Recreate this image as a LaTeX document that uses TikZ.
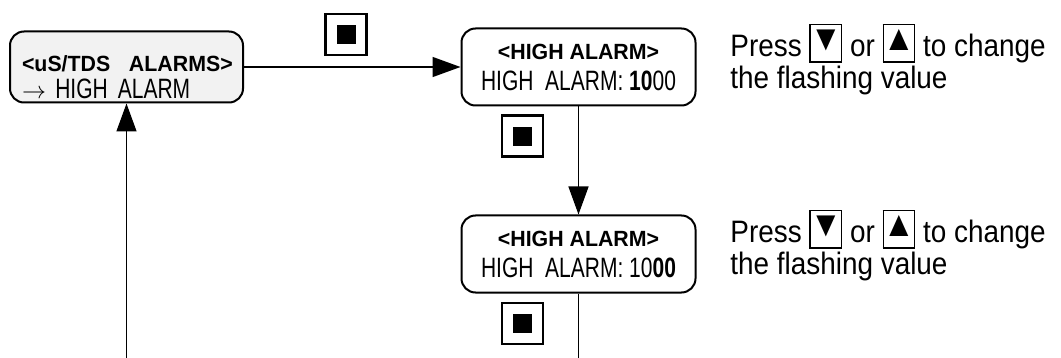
\documentclass[tikz,border=0pt]{standalone}
\usepackage{fontspec}
\setmainfont{Liberation Sans}[FakeStretch=0.9]
\newfontfamily\lcdfont{Liberation Sans}[FakeStretch=0.75]
\newfontfamily\headfont{Liberation Sans}[FakeStretch=0.97]
\usetikzlibrary{
  arrows.meta,
  positioning
}
\definecolor{PanelGray}{RGB}{242,242,242}
\definecolor{InkBlack}{RGB}{0,0,0}
\newcommand{\keycap}[1]{\raisebox{-2.5pt}{\setlength{\fboxsep}{0pt}\setlength{\fboxrule}{0.7pt}\fbox{\makebox[15pt]{\rule{0pt}{18pt}\raisebox{5.5pt}{\fontsize{18}{18}\selectfont#1}}}}}
\tikzset{
  menubox/.style={draw=InkBlack,fill=PanelGray,line width=1pt,rounded corners=7pt,minimum height=35.5pt,text width=104.5pt,inner xsep=6pt,inner ysep=0pt,align=left,font=\fontsize{14}{13.5}\selectfont},
  lcdbox/.style={draw=InkBlack,fill=white,line width=1pt,rounded corners=7pt,minimum width=117pt,minimum height=38.5pt,inner sep=0pt,align=center,font=\fontsize{14}{15.5}\selectfont},
  keybtn/.style={draw=InkBlack,fill=white,line width=1.2pt,minimum size=20.5pt,inner sep=0pt},
  notetext/.style={align=left,inner sep=0pt,font=\fontsize{15.5}{16}\selectfont},
  flowarrow/.style={-{Triangle[length=14pt,width=10pt]},line width=0.7pt,draw=InkBlack},
  flowline/.style={line width=0.7pt,draw=InkBlack}
}

\begin{document}
\begin{tikzpicture}[x=0.5pt,y=-0.5pt]
\useasboundingbox (0,0) rectangle (1061,358);

\node[menubox] (alarms) at (126.5,67) {\rule{0pt}{18pt}\mbox{\headfont\bfseries\fontsize{11}{11}\selectfont <uS/TDS\ \ ALARMS>}\\\mbox{\lcdfont{\fontsize{12}{12}\selectfont$\rightarrow$}\ HIGH\hspace{5pt}ALARM}};
\node[lcdbox] (highset) at (578.5,67) {{\headfont\bfseries\fontsize{11}{11}\selectfont <HIGH ALARM>}\\{\lcdfont HIGH\ \ ALARM: \textbf{10}00}};
\node[lcdbox] (highlow) at (578.5,254) {{\headfont\bfseries\fontsize{11}{11}\selectfont <HIGH ALARM>}\\{\lcdfont HIGH\ \ ALARM: 10\textbf{00}}};

\node[keybtn] (keyA) at (346,34.5) {\rule{9.5pt}{9.5pt}};
\node[keybtn, below=4pt of highset, xshift=-28pt] (keyB) {\rule{9.5pt}{9.5pt}};
\node[keybtn, below=4pt of highlow, xshift=-28pt] (keyC) {\rule{9.5pt}{9.5pt}};

\node[notetext, anchor=north west] (notehigh) at (730,23.5) {Press \keycap{▼} or \keycap{▲} to change\\the flashing value};
\node[notetext, anchor=north west] (notelow) at (730,209.5) {Press \keycap{▼} or \keycap{▲} to change\\the flashing value};

\coordinate (retL) at (126.5,358);
\coordinate (outL) at (578.5,358);

\draw[flowarrow] (alarms) -- (highset);
\draw[flowarrow] (highset) -- (highlow);
\draw[flowline] (highlow) -- (outL);
\draw[flowarrow] (retL) -- (alarms);
\end{tikzpicture}
\end{document}
